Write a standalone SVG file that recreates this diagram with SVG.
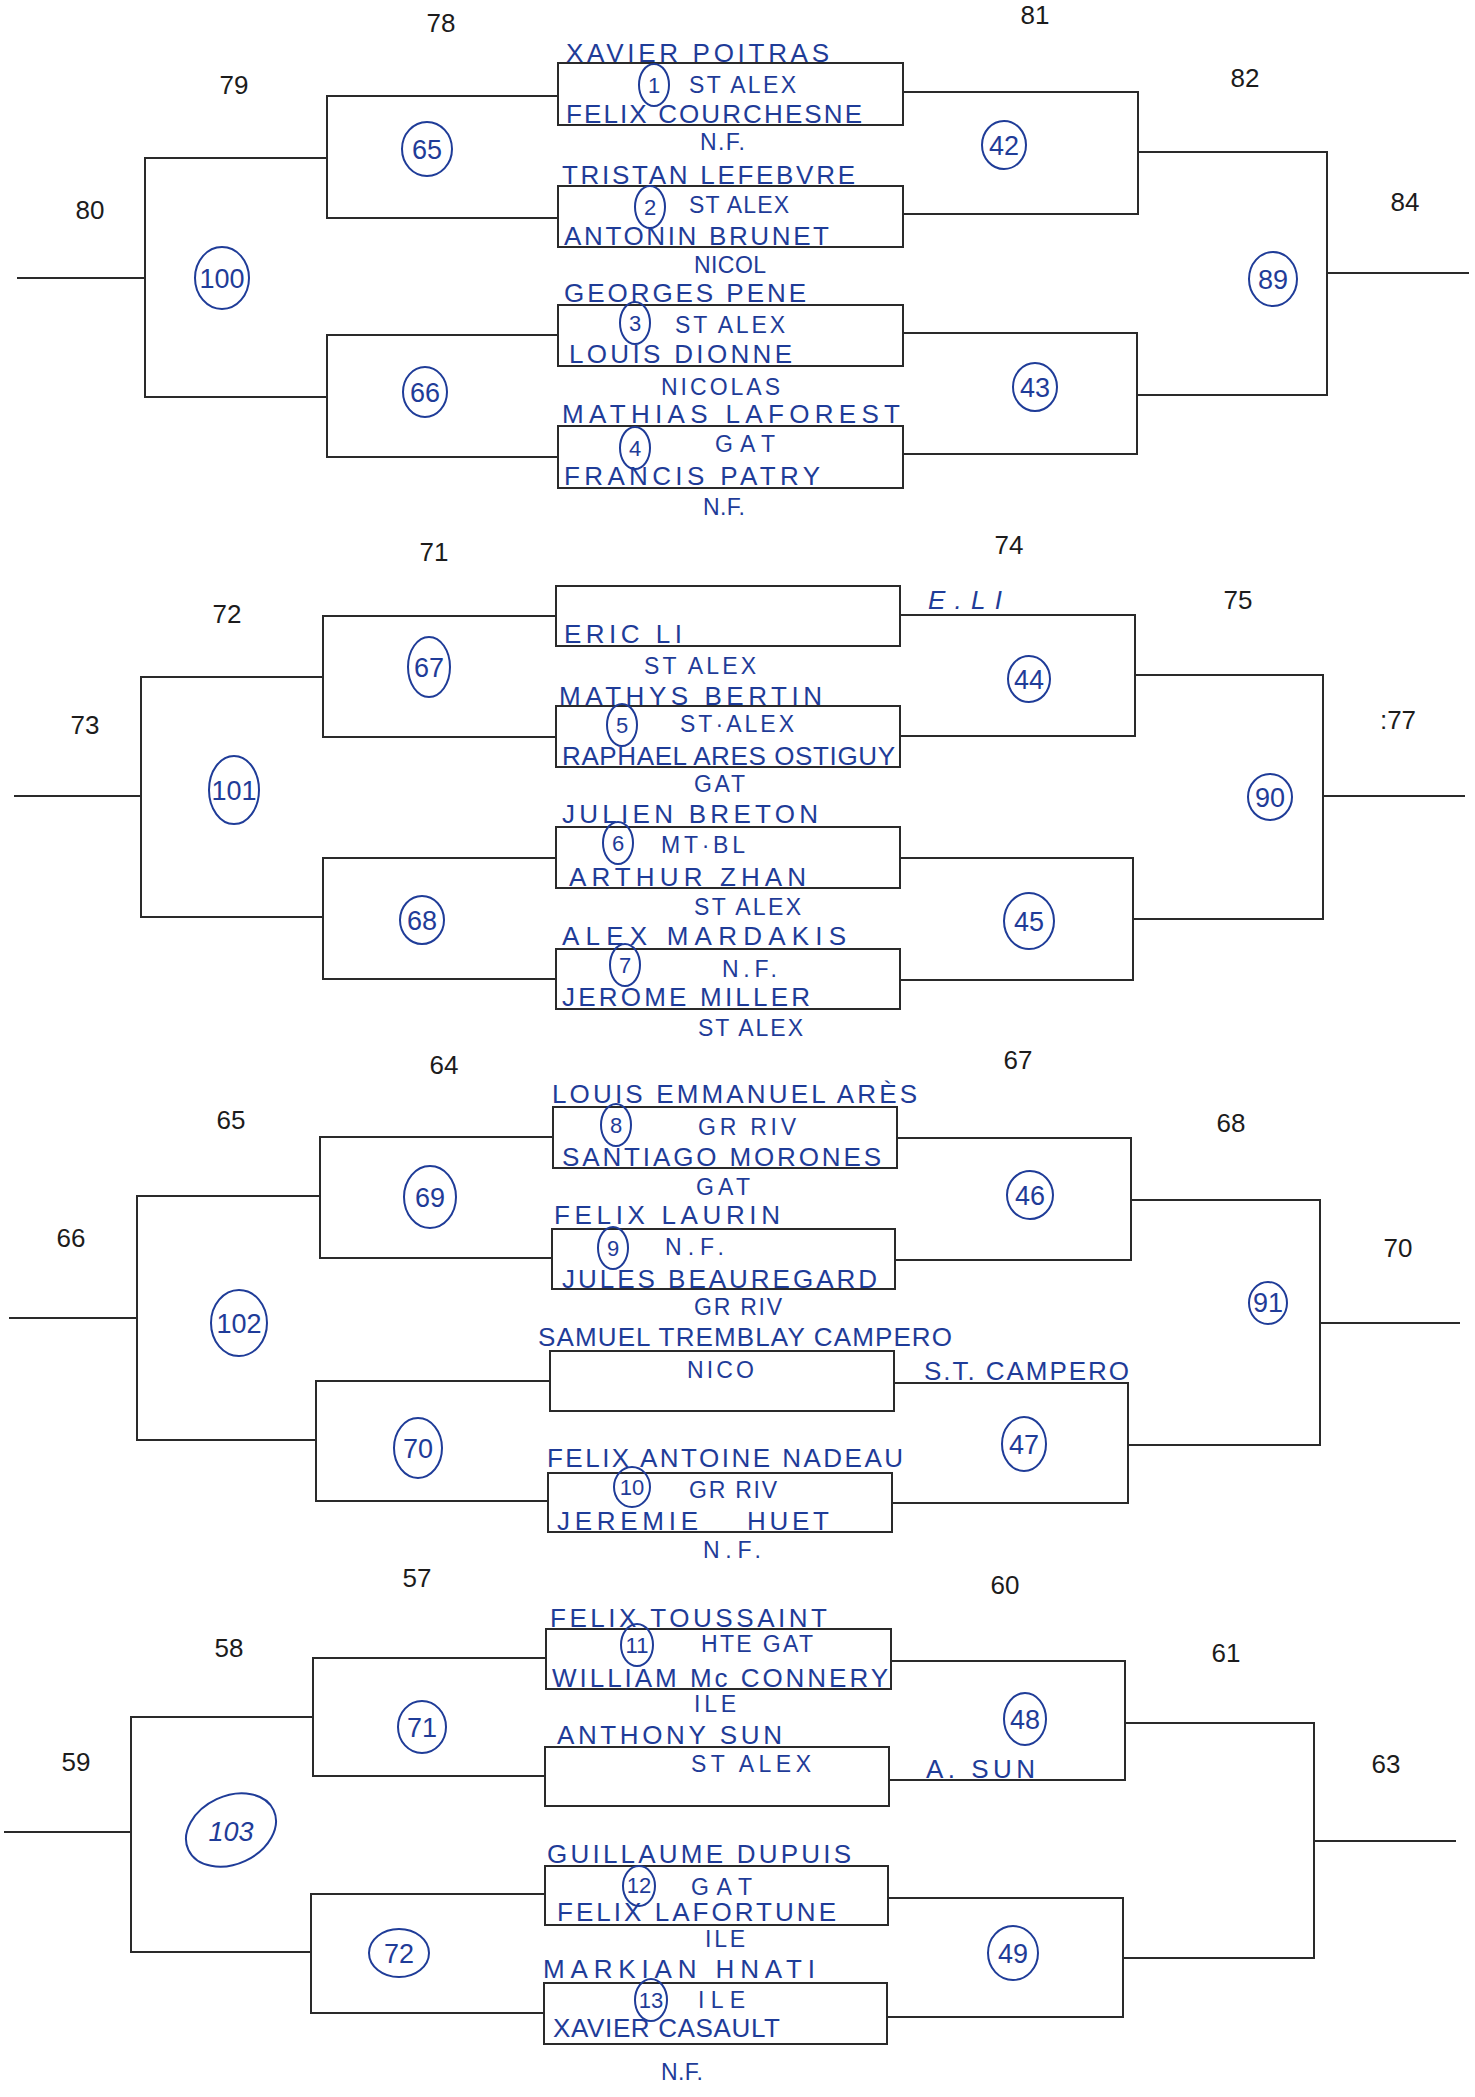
<svg xmlns="http://www.w3.org/2000/svg" width="1475" height="2097" viewBox="0 0 1475 2097">
<style>
.bg{fill:#ffffff}
.ln{fill:none;stroke:#2a2a2a;stroke-width:2}
.bx{fill:none;stroke:#2a2a2a;stroke-width:2}
.num{font-family:"Liberation Sans",Arial,sans-serif;font-size:26px;fill:#1c1c1c;text-anchor:middle}
.nm{font-family:"Liberation Sans",Arial,sans-serif;font-size:26px;fill:#1f3c98}
.cl{font-family:"Liberation Sans",Arial,sans-serif;font-size:23px;fill:#1f3c98}
.sd{fill:none;stroke:#1f3c98;stroke-width:2}
.sdt{font-family:"Liberation Sans",Arial,sans-serif;font-size:22px;fill:#1f3c98;text-anchor:middle}
.mc{fill:none;stroke:#1f3c98;stroke-width:2}
.mct{font-family:"Liberation Sans",Arial,sans-serif;font-size:27px;fill:#1f3c98;text-anchor:middle}
</style>
<rect class="bg" x="0" y="0" width="1475" height="2097"/>

<g id="connectors">
<path class="ln" d="M17 278 H145 M558 96 H327 V218 H558 M558 335 H327 V457 H558 M327 158 H145 V397 H327"/>
<path class="ln" d="M903 92 H1138 V214 H903 M903 333 H1137 V454 H903 M1138 152 H1327 V395 H1137 M1327 273 H1469"/>
<path class="ln" d="M14 796 H141 M556 616 H323 V737 H556 M556 858 H323 V979 H556 M323 677 H141 V917 H323"/>
<path class="ln" d="M900 615 H1135 V736 H900 M899 858 H1133 V980 H899 M1135 675 H1323 V919 H1133 M1323 796 H1465"/>
<path class="ln" d="M9 1318 H137 M553 1137 H320 V1258 H552 M550 1381 H316 V1501 H548 M320 1196 H137 V1440 H316"/>
<path class="ln" d="M897 1138 H1131 V1260 H895 M894 1383 H1128 V1503 H892 M1131 1200 H1320 V1445 H1128 M1320 1323 H1460"/>
<path class="ln" d="M4 1832 H131 M546 1658 H313 V1776 H545 M545 1894 H311 V2013 H544 M313 1717 H131 V1952 H311"/>
<path class="ln" d="M891 1661 H1125 V1780 H889 M888 1898 H1123 V2017 H887 M1125 1723 H1314 V1958 H1123 M1314 1841 H1456"/>
</g>

<g id="round-labels">
<text class="num" x="441" y="32">78</text>
<text class="num" x="234" y="94">79</text>
<text class="num" x="90" y="219">80</text>
<text class="num" x="1035" y="24">81</text>
<text class="num" x="1245" y="87">82</text>
<text class="num" x="1405" y="211">84</text>
<text class="num" x="434" y="561">71</text>
<text class="num" x="227" y="623">72</text>
<text class="num" x="85" y="734">73</text>
<text class="num" x="1009" y="554">74</text>
<text class="num" x="1238" y="609">75</text>
<text class="num" x="1398" y="729">:77</text>
<text class="num" x="444" y="1074">64</text>
<text class="num" x="231" y="1129">65</text>
<text class="num" x="71" y="1247">66</text>
<text class="num" x="1018" y="1069">67</text>
<text class="num" x="1231" y="1132">68</text>
<text class="num" x="1398" y="1257">70</text>
<text class="num" x="417" y="1587">57</text>
<text class="num" x="229" y="1657">58</text>
<text class="num" x="76" y="1771">59</text>
<text class="num" x="1005" y="1594">60</text>
<text class="num" x="1226" y="1662">61</text>
<text class="num" x="1386" y="1773">63</text>
</g>

<!-- Section 1 -->
<g id="box-1">
<rect class="bx" x="558" y="63" width="345" height="62"/>
<text class="nm" x="566" y="62" textLength="263" lengthAdjust="spacing">XAVIER POITRAS</text>
<ellipse class="sd" cx="654" cy="85" rx="15" ry="21"/><text class="sdt" x="654" y="93">1</text>
<text class="cl" x="689" y="93" textLength="107" lengthAdjust="spacing">ST ALEX</text>
<text class="nm" x="566" y="123" textLength="296" lengthAdjust="spacing">FELIX COURCHESNE</text>
<text class="cl" x="700" y="150" textLength="45" lengthAdjust="spacing">N.F.</text>
</g>
<g id="box-2">
<rect class="bx" x="558" y="186" width="345" height="61"/>
<text class="nm" x="562" y="184" textLength="293" lengthAdjust="spacing">TRISTAN LEFEBVRE</text>
<ellipse class="sd" cx="650" cy="207" rx="15" ry="21"/><text class="sdt" x="650" y="215">2</text>
<text class="cl" x="689" y="213" textLength="100" lengthAdjust="spacing">ST ALEX</text>
<text class="nm" x="564" y="245" textLength="265" lengthAdjust="spacing">ANTONIN BRUNET</text>
<text class="cl" x="694" y="273" textLength="72" lengthAdjust="spacing">NICOL</text>
</g>
<g id="box-3">
<rect class="bx" x="558" y="305" width="345" height="61"/>
<text class="nm" x="564" y="302" textLength="242" lengthAdjust="spacing">GEORGES PENE</text>
<ellipse class="sd" cx="635" cy="323" rx="15" ry="21"/><text class="sdt" x="635" y="331">3</text>
<text class="cl" x="675" y="333" textLength="110" lengthAdjust="spacing">ST ALEX</text>
<text class="nm" x="569" y="363" textLength="223" lengthAdjust="spacing">LOUIS DIONNE</text>
<text class="cl" x="661" y="395" textLength="119" lengthAdjust="spacing">NICOLAS</text>
</g>
<g id="box-4">
<rect class="bx" x="558" y="426" width="345" height="62"/>
<text class="nm" x="562" y="423" textLength="338" lengthAdjust="spacing">MATHIAS LAFOREST</text>
<ellipse class="sd" cx="635" cy="448" rx="15" ry="21"/><text class="sdt" x="635" y="456">4</text>
<text class="cl" x="715" y="452" textLength="60" lengthAdjust="spacing">GAT</text>
<text class="nm" x="564" y="485" textLength="256" lengthAdjust="spacing">FRANCIS PATRY</text>
<text class="cl" x="703" y="515" textLength="42" lengthAdjust="spacing">N.F.</text>
</g>
<g id="match-65"><ellipse class="mc" cx="427" cy="149" rx="25" ry="27"/><text class="mct" x="427" y="159">65</text></g>
<g id="match-100"><ellipse class="mc" cx="222" cy="278" rx="27" ry="31"/><text class="mct" x="222" y="288">100</text></g>
<g id="match-66"><ellipse class="mc" cx="425" cy="392" rx="22" ry="25"/><text class="mct" x="425" y="402">66</text></g>
<g id="match-42"><ellipse class="mc" cx="1004" cy="145" rx="22" ry="24"/><text class="mct" x="1004" y="155">42</text></g>
<g id="match-89"><ellipse class="mc" cx="1273" cy="279" rx="24" ry="27"/><text class="mct" x="1273" y="289">89</text></g>
<g id="match-43"><ellipse class="mc" cx="1035" cy="387" rx="22" ry="24"/><text class="mct" x="1035" y="397">43</text></g>

<!-- Section 2 -->
<g id="box-5">
<rect class="bx" x="556" y="586" width="344" height="60"/>
<text class="nm" x="564" y="643" textLength="118" lengthAdjust="spacing">ERIC LI</text>
<text class="cl" x="644" y="674" textLength="112" lengthAdjust="spacing">ST ALEX</text>
</g>
<g id="winner-e-li"><text class="nm" x="928" y="609" textLength="74" lengthAdjust="spacing" font-style="italic">E.LI</text></g>
<g id="box-6">
<rect class="bx" x="556" y="706" width="344" height="61"/>
<text class="nm" x="559" y="705" textLength="263" lengthAdjust="spacing">MATHYS BERTIN</text>
<ellipse class="sd" cx="622" cy="725" rx="15" ry="21"/><text class="sdt" x="622" y="733">5</text>
<text class="cl" x="680" y="732" textLength="114" lengthAdjust="spacing">ST·ALEX</text>
<text class="nm" x="562" y="765" textLength="333" lengthAdjust="spacing">RAPHAEL ARES OSTIGUY</text>
<text class="cl" x="694" y="792" textLength="51" lengthAdjust="spacing">GAT</text>
</g>
<g id="box-7">
<rect class="bx" x="556" y="827" width="344" height="61"/>
<text class="nm" x="562" y="823" textLength="256" lengthAdjust="spacing">JULIEN BRETON</text>
<ellipse class="sd" cx="618" cy="843" rx="15" ry="21"/><text class="sdt" x="618" y="851">6</text>
<text class="cl" x="661" y="853" textLength="84" lengthAdjust="spacing">MT·BL</text>
<text class="nm" x="569" y="886" textLength="237" lengthAdjust="spacing">ARTHUR ZHAN</text>
<text class="cl" x="694" y="915" textLength="107" lengthAdjust="spacing">ST ALEX</text>
</g>
<g id="box-8">
<rect class="bx" x="556" y="949" width="344" height="60"/>
<text class="nm" x="562" y="945" textLength="284" lengthAdjust="spacing">ALEX MARDAKIS</text>
<ellipse class="sd" cx="625" cy="965" rx="15" ry="21"/><text class="sdt" x="625" y="973">7</text>
<text class="cl" x="722" y="977" textLength="55" lengthAdjust="spacing">N.F.</text>
<text class="nm" x="562" y="1006" textLength="248" lengthAdjust="spacing">JEROME MILLER</text>
<text class="cl" x="698" y="1036" textLength="105" lengthAdjust="spacing">ST ALEX</text>
</g>
<g id="match-67"><ellipse class="mc" cx="429" cy="667" rx="21" ry="30"/><text class="mct" x="429" y="677">67</text></g>
<g id="match-101"><ellipse class="mc" cx="234" cy="790" rx="25" ry="34"/><text class="mct" x="234" y="800">101</text></g>
<g id="match-68"><ellipse class="mc" cx="422" cy="920" rx="22" ry="24"/><text class="mct" x="422" y="930">68</text></g>
<g id="match-44"><ellipse class="mc" cx="1029" cy="679" rx="21" ry="23"/><text class="mct" x="1029" y="689">44</text></g>
<g id="match-90"><ellipse class="mc" cx="1270" cy="797" rx="22" ry="23"/><text class="mct" x="1270" y="807">90</text></g>
<g id="match-45"><ellipse class="mc" cx="1029" cy="921" rx="25" ry="28"/><text class="mct" x="1029" y="931">45</text></g>

<!-- Section 3 -->
<g id="box-9">
<rect class="bx" x="553" y="1107" width="344" height="61"/>
<text class="nm" x="552" y="1103" textLength="365" lengthAdjust="spacing">LOUIS EMMANUEL ARÈS</text>
<ellipse class="sd" cx="616" cy="1125" rx="15" ry="21"/><text class="sdt" x="616" y="1133">8</text>
<text class="cl" x="698" y="1135" textLength="98" lengthAdjust="spacing">GR RIV</text>
<text class="nm" x="562" y="1166" textLength="319" lengthAdjust="spacing">SANTIAGO MORONES</text>
<text class="cl" x="696" y="1195" textLength="54" lengthAdjust="spacing">GAT</text>
</g>
<g id="box-10">
<rect class="bx" x="552" y="1229" width="343" height="60"/>
<text class="nm" x="554" y="1224" textLength="226" lengthAdjust="spacing">FELIX LAURIN</text>
<ellipse class="sd" cx="613" cy="1248" rx="15" ry="21"/><text class="sdt" x="613" y="1256">9</text>
<text class="cl" x="665" y="1255" textLength="59" lengthAdjust="spacing">N.F.</text>
<text class="nm" x="562" y="1288" textLength="315" lengthAdjust="spacing">JULES BEAUREGARD</text>
<text class="cl" x="694" y="1315" textLength="88" lengthAdjust="spacing">GR RIV</text>
</g>
<g id="box-11">
<rect class="bx" x="550" y="1351" width="344" height="60"/>
<text class="nm" x="538" y="1346" textLength="414" lengthAdjust="spacing">SAMUEL TREMBLAY CAMPERO</text>
<text class="cl" x="687" y="1378" textLength="67" lengthAdjust="spacing">NICO</text>
</g>
<g id="winner-st-campero"><text class="nm" x="924" y="1380" textLength="205" lengthAdjust="spacing">S.T. CAMPERO</text></g>
<g id="box-12">
<rect class="bx" x="548" y="1473" width="344" height="59"/>
<text class="nm" x="547" y="1467" textLength="356" lengthAdjust="spacing">FELIX ANTOINE NADEAU</text>
<ellipse class="sd" cx="632" cy="1487" rx="18" ry="20"/><text class="sdt" x="632" y="1495">10</text>
<text class="cl" x="689" y="1498" textLength="88" lengthAdjust="spacing">GR RIV</text>
<text class="nm" y="1530"><tspan x="557" textLength="141" lengthAdjust="spacing">JEREMIE</tspan><tspan x="747" textLength="82" lengthAdjust="spacing">HUET</tspan></text>
<text class="cl" x="703" y="1558" textLength="58" lengthAdjust="spacing">N.F.</text>
</g>
<g id="match-69"><ellipse class="mc" cx="430" cy="1197" rx="26" ry="31"/><text class="mct" x="430" y="1207">69</text></g>
<g id="match-102"><ellipse class="mc" cx="239" cy="1323" rx="28" ry="33"/><text class="mct" x="239" y="1333">102</text></g>
<g id="match-70"><ellipse class="mc" cx="418" cy="1448" rx="24" ry="30"/><text class="mct" x="418" y="1458">70</text></g>
<g id="match-46"><ellipse class="mc" cx="1030" cy="1195" rx="23" ry="24"/><text class="mct" x="1030" y="1205">46</text></g>
<g id="match-91"><ellipse class="mc" cx="1268" cy="1303" rx="19" ry="21"/><text class="mct" x="1268" y="1312" font-size="24">91</text></g>
<g id="match-47"><ellipse class="mc" cx="1024" cy="1444" rx="22" ry="27"/><text class="mct" x="1024" y="1454">47</text></g>

<!-- Section 4 -->
<g id="box-13">
<rect class="bx" x="546" y="1629" width="345" height="60"/>
<text class="nm" x="550" y="1627" textLength="277" lengthAdjust="spacing">FELIX TOUSSAINT</text>
<ellipse class="sd" cx="637" cy="1645" rx="16" ry="21"/><text class="sdt" x="637" y="1653">11</text>
<text class="cl" x="701" y="1652" textLength="112" lengthAdjust="spacing">HTE GAT</text>
<text class="nm" x="552" y="1687" textLength="336" lengthAdjust="spacing">WILLIAM Mc CONNERY</text>
<text class="cl" x="694" y="1712" textLength="42" lengthAdjust="spacing">ILE</text>
</g>
<g id="box-14">
<rect class="bx" x="545" y="1747" width="344" height="59"/>
<text class="nm" x="557" y="1744" textLength="225" lengthAdjust="spacing">ANTHONY SUN</text>
<text class="cl" x="691" y="1772" textLength="120" lengthAdjust="spacing">ST ALEX</text>
</g>
<g id="winner-a-sun"><text class="nm" x="926" y="1778" textLength="109" lengthAdjust="spacing">A. SUN</text></g>
<g id="box-15">
<rect class="bx" x="545" y="1866" width="343" height="59"/>
<text class="nm" x="547" y="1863" textLength="304" lengthAdjust="spacing">GUILLAUME DUPUIS</text>
<ellipse class="sd" cx="639" cy="1886" rx="16" ry="20"/><text class="sdt" x="639" y="1893" font-size="20">12</text>
<text class="cl" x="691" y="1895" textLength="61" lengthAdjust="spacing">GAT</text>
<text class="nm" x="557" y="1921" textLength="279" lengthAdjust="spacing">FELIX LAFORTUNE</text>
<text class="cl" x="705" y="1947" textLength="40" lengthAdjust="spacing">ILE</text>
</g>
<g id="box-16">
<rect class="bx" x="544" y="1983" width="343" height="61"/>
<text class="nm" x="543" y="1978" textLength="272" lengthAdjust="spacing">MARKIAN HNATI</text>
<ellipse class="sd" cx="651" cy="2000" rx="16" ry="21"/><text class="sdt" x="651" y="2008">13</text>
<text class="cl" x="698" y="2008" textLength="47" lengthAdjust="spacing">ILE</text>
<text class="nm" x="553" y="2037" textLength="227" lengthAdjust="spacing">XAVIER CASAULT</text>
<text class="cl" x="661" y="2080" textLength="42" lengthAdjust="spacing">N.F.</text>
</g>
<g id="match-71"><ellipse class="mc" cx="422" cy="1727" rx="24" ry="26"/><text class="mct" x="422" y="1737">71</text></g>
<g id="match-103"><ellipse class="mc" cx="231" cy="1830" rx="47" ry="34" transform="rotate(-25 231 1830)"/><text class="mct" x="231" y="1841" font-size="31" font-style="italic">103</text></g>
<g id="match-72"><ellipse class="mc" cx="399" cy="1953" rx="30" ry="24"/><text class="mct" x="399" y="1963">72</text></g>
<g id="match-48"><ellipse class="mc" cx="1025" cy="1719" rx="21" ry="26"/><text class="mct" x="1025" y="1729">48</text></g>
<g id="match-49"><ellipse class="mc" cx="1013" cy="1953" rx="25" ry="27"/><text class="mct" x="1013" y="1963">49</text></g>
</svg>
